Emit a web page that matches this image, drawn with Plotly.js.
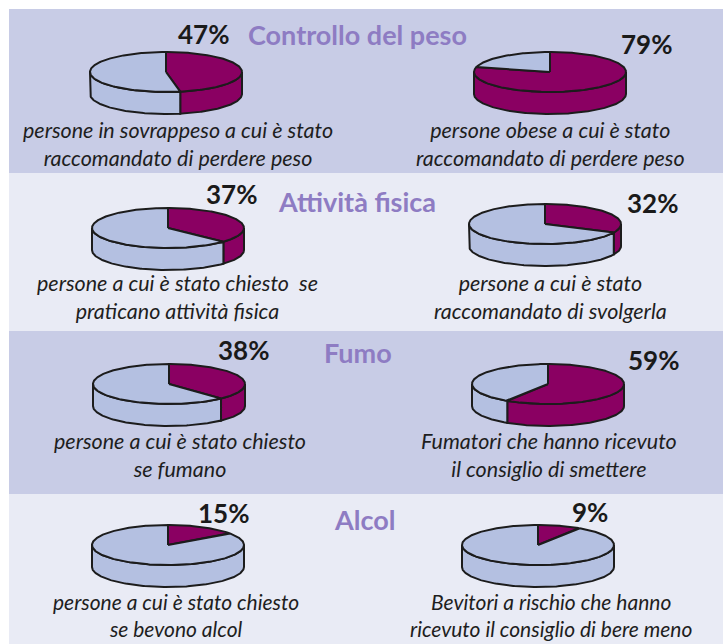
<!DOCTYPE html>
<html>
<head>
<meta charset="utf-8">
<script src="https://cdn.plot.ly/plotly-3.0.1.min.js"></script>
<style>html,body{margin:0;padding:0;background:#fff;}#chart{width:723px;height:644px;}</style>
</head>
<body>
<div id="chart"></div>
<script>
// ---- data ----
const sections = ["Controllo del peso", "Attività fisica", "Fumo", "Alcol"];
const leftValues = [47, 37, 38, 15];
const rightValues = [79, 32, 59, 9];
const leftCaptions = [
  ["persone in sovrappeso a cui è stato", "raccomandato di perdere peso"],
  ["persone a cui è stato chiesto  se", "praticano attività fisica"],
  ["persone a cui è stato chiesto", "se fumano"],
  ["persone a cui è stato chiesto", "se bevono alcol"]
];
const rightCaptions = [
  ["persone obese a cui è stato", "raccomandato di perdere peso"],
  ["persone a cui è stato", "raccomandato di svolgerla"],
  ["Fumatori che hanno ricevuto", "il consiglio di smettere"],
  ["Bevitori a rischio che hanno", "ricevuto il consiglio di bere meno"]
];

// ---- layout geometry (pixels) ----
const bandTops = [9, 173, 331, 494];
const bandBottoms = [173, 331, 494, 644];
const bandColors = ["#c8cce6", "#e9ebf5", "#c8cce6", "#e9ebf5"];
const pieL = [[166, 72], [168, 228], [169, 384], [168, 545]];
const pieR = [[550, 72], [545, 224], [548, 384], [538, 545]];
const pctL = [[203, 34], [231, 194], [243, 350], [223, 513]];
const pctR = [[646, 44], [652, 203], [653, 360], [590, 512]];
const secPos = [[357, 34], [357, 201], [358, 352], [364, 519]];
const capL = [[178, 144], [177, 297], [180, 455], [176, 615]];
const capR = [[550, 144], [550, 297], [549, 455], [551, 615]];
const capSize = [21.5, 21.5, 21.5, 21];

const RX = 76, RY = 20, DEPTH = 22;
const PURPLE = "#8a0062", LIGHT = "#b4c0e1", EDGE = "#1c1c1c";

function pt(cx, cy, th, dy) {
  const r = th * Math.PI / 180;
  return [cx + RX * Math.sin(r), cy - RY * Math.cos(r) + dy];
}
function arc(cx, cy, a, b, dy) {
  const xs = [], ys = [];
  const n = Math.max(2, Math.ceil(Math.abs(b - a)));
  for (let i = 0; i <= n; i++) {
    const p = pt(cx, cy, a + (b - a) * i / n, dy);
    xs.push(p[0]); ys.push(p[1]);
  }
  return [xs, ys];
}
function poly(xs, ys, color) {
  return {type: "scatter", mode: "lines", x: xs, y: ys, fill: "toself",
    fillcolor: color, line: {color: EDGE, width: 2}, hoverinfo: "skip", showlegend: false};
}
function pieTraces(cx, cy, pct) {
  const cut = pct * 3.6;
  const slices = [{a: 0, b: cut, c: PURPLE}, {a: cut, b: 360, c: LIGHT}];
  const walls = [], tops = [];
  slices.forEach(s => {
    const lo = Math.max(s.a, 90), hi = Math.min(s.b, 270);
    if (hi > lo) {
      const t = arc(cx, cy, lo, hi, 0), bt = arc(cx, cy, hi, lo, DEPTH);
      const xs = t[0].concat(bt[0]), ys = t[1].concat(bt[1]);
      xs.push(xs[0]); ys.push(ys[0]);
      walls.push(poly(xs, ys, s.c));
    }
    if (s.b > s.a) {
      const t = arc(cx, cy, s.a, s.b, 0);
      const xs = [cx].concat(t[0], [cx]), ys = [cy].concat(t[1], [cy]);
      tops.push(poly(xs, ys, s.c));
    }
  });
  return walls.concat(tops);
}

const traces = [];
const shapes = [];
const annotations = [];
const FONT = "Lato, 'Open Sans', 'DejaVu Sans', sans-serif";

for (let i = 0; i < sections.length; i++) {
  shapes.push({type: "rect", xref: "x", yref: "y", x0: 9, x1: 723, y0: bandTops[i], y1: bandBottoms[i],
    fillcolor: bandColors[i], line: {width: 0}, layer: "below"});
  traces.push(...pieTraces(pieL[i][0], pieL[i][1], leftValues[i]));
  traces.push(...pieTraces(pieR[i][0], pieR[i][1], rightValues[i]));
  annotations.push({xref: "x", yref: "y", x: pctL[i][0], y: pctL[i][1], text: "<b>" + leftValues[i] + "%</b>",
    showarrow: false, xanchor: "center", yanchor: "middle", font: {family: FONT, size: 26, color: "#1a1a1a"}});
  annotations.push({xref: "x", yref: "y", x: pctR[i][0], y: pctR[i][1], text: "<b>" + rightValues[i] + "%</b>",
    showarrow: false, xanchor: "center", yanchor: "middle", font: {family: FONT, size: 26, color: "#1a1a1a"}});
  annotations.push({xref: "x", yref: "y", x: secPos[i][0], y: secPos[i][1], text: "<b>" + sections[i] + "</b>",
    showarrow: false, xanchor: "center", yanchor: "middle", font: {family: FONT, size: 27, color: "#8e7cc3"}});
  annotations.push({xref: "x", yref: "y", x: capL[i][0], y: capL[i][1],
    text: "<i>" + leftCaptions[i].join("<br>") + "</i>", align: "center",
    showarrow: false, xanchor: "center", yanchor: "middle", font: {family: FONT, size: capSize[i], color: "#1e1e1e"}});
  annotations.push({xref: "x", yref: "y", x: capR[i][0], y: capR[i][1],
    text: "<i>" + rightCaptions[i].join("<br>") + "</i>", align: "center",
    showarrow: false, xanchor: "center", yanchor: "middle", font: {family: FONT, size: capSize[i], color: "#1e1e1e"}});
}

const layout = {
  width: 723, height: 644,
  margin: {l: 0, r: 0, t: 0, b: 0, pad: 0},
  paper_bgcolor: "#ffffff", plot_bgcolor: "#ffffff",
  xaxis: {range: [0, 723], visible: false, fixedrange: true},
  yaxis: {range: [644, 0], visible: false, fixedrange: true},
  shapes: shapes, annotations: annotations, showlegend: false
};
Plotly.newPlot("chart", traces, layout, {staticPlot: true, displayModeBar: false});
</script>
</body>
</html>
